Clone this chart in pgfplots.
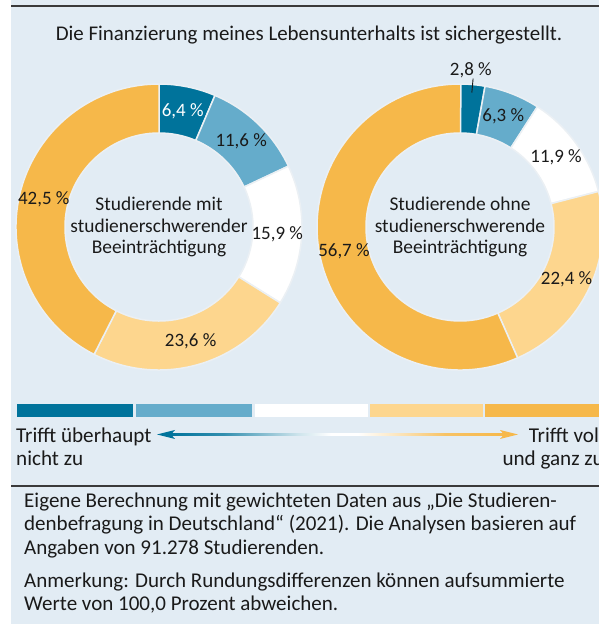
\documentclass[border=0pt]{standalone}
\usepackage{fontspec}
\setmainfont{Carlito}
\usepackage{pgfplots}
\usepackage{pgfplotstable}
\pgfplotsset{compat=1.18}
\pgfkeys{/pgf/number format/assume math mode=true}
\definecolor{bg}{HTML}{E2ECF4}
\definecolor{cA}{HTML}{00739B}
\definecolor{cB}{HTML}{65ACCB}
\definecolor{cC}{HTML}{FFFFFF}
\definecolor{cD}{HTML}{FDD68E}
\definecolor{cE}{HTML}{F6B84A}
\definecolor{sep}{HTML}{EBF0F4}
\definecolor{txt}{HTML}{1A1A1A}
\definecolor{rulec}{HTML}{3A3A3A}
\colorlet{gA}{cA!80!white}
\colorlet{gB}{cA!20!white}
\colorlet{gC}{cE!30!white}
\colorlet{gD}{cE!85!white}
\pgfdeclarehorizontalshading{arrowgrad}{100bp}{color(0bp)=(cA); color(25bp)=(cA); color(33bp)=(gA); color(44bp)=(gB); color(49bp)=(white); color(53bp)=(white); color(58bp)=(gC); color(66bp)=(gD); color(75bp)=(cE); color(100bp)=(cE)}
\newcommand\lbl{\fontsize{19.5}{21.5}\selectfont}
\newcommand\pct{\fontsize{19}{21}\selectfont}
\newcommand\ttl{\fontsize{21}{24}\selectfont}
\newcommand\lgd{\fontsize{21.2}{24}\selectfont}
\newcommand\nte{\fontsize{21.1}{23.5}\selectfont}

\pgfplotstableread{
value fill tc r lead
6.4 cA white 118.5 0
11.6 cB txt 118.5 0
15.9 cC txt 118.5 0
23.6 cD txt 118.5 0
42.5 cE txt 118.5 0
}\tabLeft
\pgfplotstableread{
value fill tc r lead
2.8 cA txt 157 1
6.3 cB txt 118.5 0
11.9 cC txt 118.5 0
22.4 cD txt 118.5 0
56.7 cE txt 118.5 0
}\tabRight

\newcommand\drawdonut[3]{%
  \pgfplotstablegetrowsof{#1}%
  \pgfmathtruncatemacro\lastrow{\pgfplotsretval-1}%
  \xdef\cum{0}%
  \foreach \i in {0,...,\lastrow}{%
    \pgfplotstablegetelem{\i}{value}\of{#1}\let\v\pgfplotsretval
    \pgfplotstablegetelem{\i}{fill}\of{#1}\let\fc\pgfplotsretval
    \pgfmathsetmacro\a{90-3.6*\cum}%
    \pgfmathsetmacro\b{90-3.6*(\cum+\v)}%
    \pgfmathsetmacro\xo{#2+143*cos(\a)}%
    \pgfmathsetmacro\yo{#3+143*sin(\a)}%
    \pgfmathsetmacro\xi{#2+94*cos(\b)}%
    \pgfmathsetmacro\yi{#3+94*sin(\b)}%
    \filldraw[fill=\fc, draw=sep, line width=1.5bp, line join=round] (axis cs:\xo,\yo) arc[start angle=\a, end angle=\b, radius=143bp] -- (axis cs:\xi,\yi) arc[start angle=\b, end angle=\a, radius=94bp] -- cycle;
    \pgfmathsetmacro\newcum{\cum+\v}%
    \xdef\cum{\newcum}%
  }%
  \xdef\cum{0}%
  \foreach \i in {0,...,\lastrow}{%
    \pgfplotstablegetelem{\i}{value}\of{#1}\let\v\pgfplotsretval
    \pgfplotstablegetelem{\i}{tc}\of{#1}\let\tc\pgfplotsretval
    \pgfplotstablegetelem{\i}{r}\of{#1}\let\lr\pgfplotsretval
    \pgfplotstablegetelem{\i}{lead}\of{#1}\let\ld\pgfplotsretval
    \pgfmathsetmacro\m{90-3.6*(\cum+\v/2)}%
    \pgfmathsetmacro\xl{#2+\lr*cos(\m)}%
    \pgfmathsetmacro\yl{#3+\lr*sin(\m)}%
    \ifnum\ld=1
      \pgfmathsetmacro\xa{#2+135*cos(\m)}%
      \pgfmathsetmacro\ya{#3+135*sin(\m)}%
      \pgfmathsetmacro\xb{#2+149*cos(\m)}%
      \pgfmathsetmacro\yb{#3+149*sin(\m)}%
      \draw[txt, line width=0.9bp] (axis cs:\xa,\ya) -- (axis cs:\xb,\yb);
      \node[text=\tc, font=\pct] at (axis cs:\xl-3,\yl) {\pgfmathprintnumber[fixed,fixed zerofill,precision=1,use comma]{\v}~\%};
    \else
      \node[text=\tc, font=\pct] at (axis cs:\xl,\yl) {\pgfmathprintnumber[fixed,fixed zerofill,precision=1,use comma]{\v}~\%};
    \fi
    \pgfmathsetmacro\newcum{\cum+\v}%
    \xdef\cum{\newcum}%
  }%
}

\begin{document}
\begin{tikzpicture}
\begin{axis}[at={(0,0)}, anchor=south west, x=1bp, y=1bp, xmin=0, xmax=599, ymin=0, ymax=624,
  hide axis, scale only axis, clip=false]
\pgfplotsextra{%
  \fill[bg] (axis cs:11,0) rectangle (axis cs:599,624);
  \draw[rulec, line width=1.6bp] (axis cs:11,618) -- (axis cs:599,618);
  \draw[rulec, line width=1.6bp] (axis cs:11,138) -- (axis cs:599,138);
  \node[anchor=base, font=\ttl, text=txt] at (axis cs:309,583) {Die Finanzierung meines Lebensunterhalts ist sichergestellt.};
  \drawdonut{\tabLeft}{159}{397}
  \drawdonut{\tabRight}{460}{397}
  \node[align=center, font=\lbl, text=txt] at (axis cs:159,397) {Studierende mit\\studienerschwerender\\Beeinträchtigung};
  \node[align=center, font=\lbl, text=txt] at (axis cs:460,397) {Studierende ohne\\studienerschwerende\\Beeinträchtigung};
  \fill[cA] (axis cs:17,207) rectangle (axis cs:133,220);
  \fill[cB] (axis cs:135.5,207) rectangle (axis cs:252,220);
  \fill[cC] (axis cs:254.5,207) rectangle (axis cs:367.5,220);
  \fill[cD] (axis cs:370,207) rectangle (axis cs:482.5,220);
  \fill[cE] (axis cs:485,207) rectangle (axis cs:599,220);
  \shade[shading=arrowgrad] (axis cs:170,188.3) rectangle (axis cs:505,190.7);
  \fill[cA] (axis cs:157,189.5) -- (axis cs:175,194) -- (axis cs:171,189.5) -- (axis cs:175,185) -- cycle;
  \fill[cE] (axis cs:518,189.5) -- (axis cs:500,194) -- (axis cs:504,189.5) -- (axis cs:500,185) -- cycle;
  \node[anchor=base west, font=\lgd, text=txt, inner sep=0] at (axis cs:16,182) {Trifft überhaupt};
  \node[anchor=base west, font=\lgd, text=txt, inner sep=0] at (axis cs:16,159) {nicht zu};
  \node[anchor=base east, font=\lgd, text=txt, inner sep=0] at (axis cs:604,182) {Trifft voll};
  \node[anchor=base east, font=\lgd, text=txt, inner sep=0] at (axis cs:604,159) {und ganz zu};
  \node[anchor=base west, font=\nte, text=txt, inner sep=0] at (axis cs:24,117) {Eigene Berechnung mit gewichteten Daten aus „Die Studieren-};
  \node[anchor=base west, font=\nte, text=txt, inner sep=0] at (axis cs:24,94) {denbefragung in Deutschland“ (2021). Die Analysen basieren auf};
  \node[anchor=base west, font=\nte, text=txt, inner sep=0] at (axis cs:24,70) {Angaben von 91.278 Studierenden.};
  \node[anchor=base west, font=\nte, text=txt, inner sep=0] at (axis cs:24,37) {Anmerkung: Durch Rundungsdifferenzen können aufsummierte};
  \node[anchor=base west, font=\nte, text=txt, inner sep=0] at (axis cs:24,14) {Werte von 100,0 Prozent abweichen.};
}
\end{axis}
\pgfresetboundingbox
\path[use as bounding box] (0,0) rectangle (599bp,624bp);
\end{tikzpicture}
\end{document}
